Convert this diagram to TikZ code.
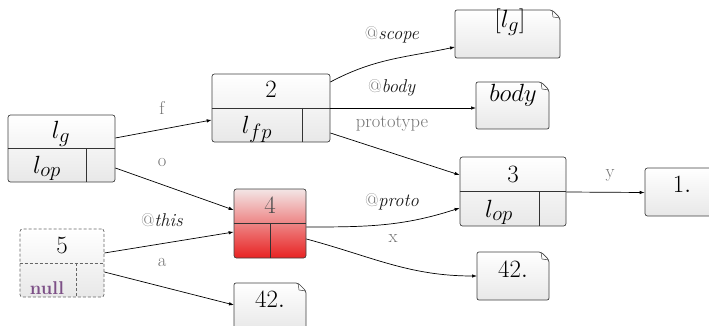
\documentclass[tikz,border=0pt]{standalone}
\usetikzlibrary{arrows.meta,calc}
\definecolor{nullpurple}{RGB}{125,80,135}
\definecolor{redtop}{RGB}{243,230,230}
\definecolor{redbot}{RGB}{232,34,34}
\newcommand\drawnote[1]{%
  \path[notebox] (#1.south west) -- (#1.north west) -- ([xshift=-8pt]#1.north east) -- ([yshift=-8pt]#1.north east) -- (#1.south east) -- cycle;
  \draw[line width=0.5pt, black!75] ([xshift=-8pt]#1.north east) -- ([xshift=-7pt,yshift=-7pt]#1.north east) -- ([yshift=-8pt]#1.north east);}
\newcommand\atname[1]{@\textcolor{black!90}{\textit{#1}}}
\begin{document}
\begin{tikzpicture}[x=1pt,y=-1pt,
  box/.style={draw=black!75, line width=0.7pt, rounded corners=2.5pt, top color=white, bottom color=black!9, inner sep=0pt},
  notebox/.style={draw=black!75, line width=0.7pt, rounded corners=2pt, top color=white, bottom color=black!9},
  frame/.style={inner sep=0pt, outer sep=0pt},
  div/.style={line width=0.7pt, black!80},
  txt/.style={anchor=base, inner sep=0pt, font=\fontsize{24.88}{30}\selectfont},
  lbl/.style={text=black!55, inner sep=0pt, font=\fontsize{18.5}{21}\selectfont},
  edge/.style={line width=0.7pt, -{Latex[length=5pt,width=3.5pt]}},
]
\useasboundingbox (0,0) rectangle (709,326);

% record nodes
\node[box, minimum width=107pt, minimum height=67pt] (lg) at (61.5,148.5) {};
\draw[div] (lg.west) -- (lg.east);
\draw[div] ([xshift=24.5pt]lg.center) -- ([xshift=24.5pt]lg.south);
\node[txt] (lgtop) at (61,139) {$l_g$};
\node[txt] (lgbot) at (47,173) {$l_{op}$};

\node[box, minimum width=118pt, minimum height=68pt] (n2) at (271,108) {};
\draw[div] (n2.west) -- (n2.east);
\draw[div] ([xshift=31pt]n2.center) -- ([xshift=31pt]n2.south);
\node[txt] (n2top) at (271,98) {$2$};
\node[txt] (n2bot) at (257,133) {$l_{fp}$};

\node[box, top color=redtop, bottom color=redbot, minimum width=72pt, minimum height=69pt] (n4) at (270,223.5) {};
\draw[div] (n4.west) -- (n4.east);
\draw[div] (n4.center) -- (n4.south);
\node[txt, text=black!70] (n4top) at (270,213) {$4$};

\node[box, draw=black!60, dashed, dash pattern=on 3pt off 2pt, minimum width=84pt, minimum height=68pt] (n5) at (62,263) {};
\draw[div, black!60, dash pattern=on 3pt off 2pt] (n5.west) -- (n5.east);
\draw[div, black!60, dash pattern=on 3pt off 2pt] ([xshift=14pt]n5.center) -- ([xshift=14pt]n5.south);
\node[txt] (n5top) at (62,253) {$5$};
\node[anchor=base, inner sep=0pt, font=\fontsize{18.5}{21}\selectfont\bfseries, text=nullpurple] (n5bot) at (47,294) {null};

\node[box, minimum width=106pt, minimum height=69pt] (n3) at (513,191.5) {};
\draw[div] (n3.west) -- (n3.east);
\draw[div] ([xshift=26pt]n3.center) -- ([xshift=26pt]n3.south);
\node[txt] (n3top) at (513,182) {$3$};
\node[txt] (n3bot) at (499,217) {$l_{op}$};

\node[box, minimum width=80pt, minimum height=48pt] (one) at (685,192) {};
\node[txt] (onet) at (682,192) {$1.$};

% note nodes
\node[frame, minimum width=105pt, minimum height=48pt] (scope) at (507.5,34) {};
\drawnote{scope}
\node[txt] (scopet) at (510,28) {$[l_g]$};

\node[frame, minimum width=73pt, minimum height=47pt] (body) at (512.5,105.5) {};
\drawnote{body}
\node[txt] (bodyt) at (513,102) {$body$};

\node[frame, minimum width=72pt, minimum height=48pt] (fr) at (513,276) {};
\drawnote{fr}
\node[txt] (frt) at (513,277) {$42.$};

\node[frame, minimum width=72pt, minimum height=46pt] (fb) at (270,306) {};
\drawnote{fb}
\node[txt] (fbt) at (270,307) {$42.$};

% edges
\draw[edge] ($(lg.east)+(0,-10.5)$) -- ($(n2.west)+(0,12)$);
\draw[edge] ($(lg.east)+(0,19.5)$) -- ($(n4.west)+(0,-13.5)$);
\draw[edge] ($(n5.east)+(0,-10)$) -- ($(n4.west)+(0,8.5)$);
\draw[edge] ($(n5.east)+(0,9)$) -- ($(fb.west)+(0,-1)$);
\draw[edge] ($(n2.east)+(0,-26)$) to[out=28,in=192] ($(scope.west)+(0,13)$);
\draw[edge] (n2.east) -- ($(body.west)+(0,2.5)$);
\draw[edge] ($(n2.east)+(0,25)$) -- ($(n3.west)+(0,-16.5)$);
\draw[edge] ($(n4.east)+(0,3.5)$) to[out=0,in=198] ($(n3.west)+(0,16.5)$);
\draw[edge] ($(n4.east)+(0,15.5)$) to[out=-15,in=180] (fr.west);
\draw[edge] ($(n3.east)+(0,0.5)$) -- ($(one.west)+(0,0.5)$);

% labels
\node[lbl] (lf) at (162,108) {f};
\node[lbl] (lo) at (162,162) {o};
\node[lbl] (lthis) at (162,220) {\atname{this}};
\node[lbl] (la) at (162,262) {a};
\node[lbl] (lscope) at (392,35) {\atname{scope}};
\node[lbl] (lbody) at (392,88) {\atname{body}};
\node[lbl] (lproto) at (392,124) {prototype};
\node[lbl] (lpr) at (392,202) {\atname{proto}};
\node[lbl] (lx) at (393,239) {x};
\node[lbl] (ly) at (610,175) {y};
\end{tikzpicture}
\end{document}
